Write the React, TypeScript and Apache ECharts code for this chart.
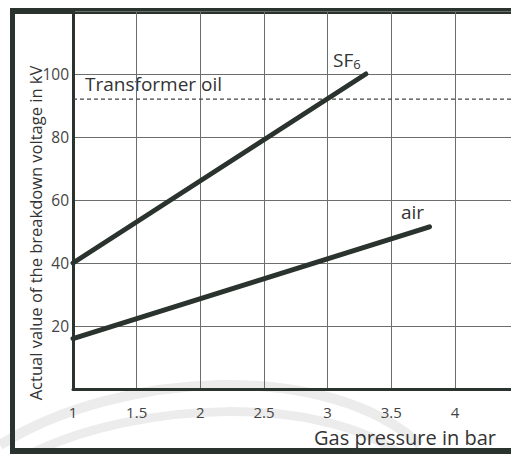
import React, { useEffect, useRef } from "react";
import * as echarts from "echarts";

const sf6Data: [number, number][] = [[1, 40], [3.3, 100]];
const airData: [number, number][] = [[1, 16], [3.8, 51.5]];
const oilLevel = 92;
const xMin = 1;
const xMax = 4.44;
const yMin = 0;
const yMax = 120;
const hiddenYLabels = [0, 120];

const DARK = "#2b332f";
const FONT = "'Open Sans', sans-serif";

export default function App() {
  const ref = useRef<HTMLDivElement>(null);
  useEffect(() => {
    if (!ref.current) return;
    const chart = echarts.init(ref.current, null, { renderer: "svg" });
    chart.setOption({
      animation: false,
      backgroundColor: "#ffffff",
      grid: { left: 73, right: 0, top: 11, bottom: 65 },
      xAxis: {
        type: "value",
        min: xMin,
        max: xMax,
        interval: 0.5,
        axisLine: { show: true, onZero: false, lineStyle: { color: DARK, width: 3 } },
        axisTick: { show: false },
        axisLabel: {
          color: "#444",
          fontSize: 15,
          fontFamily: FONT,
          margin: 15,
          showMaxLabel: false,
          formatter: (v: number) => String(v),
        },
        splitLine: { show: true, lineStyle: { color: "#6a6e6c", width: 1 } },
      },
      yAxis: {
        type: "value",
        min: yMin,
        max: yMax,
        interval: 20,
        axisLine: { show: true, onZero: false, lineStyle: { color: DARK, width: 3 } },
        axisTick: { show: false },
        axisLabel: {
          color: "#444",
          fontSize: 15.5,
          fontFamily: FONT,
          margin: 4,
          formatter: (v: number) => (hiddenYLabels.includes(v) ? "" : String(v)),
        },
        splitLine: { show: true, lineStyle: { color: "#6a6e6c", width: 1 } },
      },
      series: [
        {
          type: "line",
          data: [[xMin, oilLevel], [xMax, oilLevel]],
          symbol: "none",
          lineStyle: { color: "#444", width: 1.3, type: [4, 3] },
          z: 3,
        },
        {
          type: "line",
          data: sf6Data,
          symbol: "none",
          lineStyle: { color: DARK, width: 5, cap: "round" },
          z: 4,
        },
        {
          type: "line",
          data: airData,
          symbol: "none",
          lineStyle: { color: DARK, width: 5, cap: "round" },
          z: 4,
        },
      ],
      graphic: [
        {
          type: "bezierCurve",
          silent: true,
          z: -1,
          shape: { x1: 0, y1: 445, x2: 420, y2: 445, cpx1: 120, cpy1: 370, cpx2: 330, cpy2: 360 },
          style: { stroke: "#ececec", lineWidth: 10, fill: null },
        },
        {
          type: "bezierCurve",
          silent: true,
          z: -1,
          shape: { x1: 30, y1: 454, x2: 400, y2: 454, cpx1: 140, cpy1: 400, cpx2: 320, cpy2: 395 },
          style: { stroke: "#ececec", lineWidth: 9, fill: null },
        },
        {
          type: "line",
          shape: { x1: 12.5, y1: 8, x2: 12.5, y2: 454 },
          style: { stroke: DARK, lineWidth: 5 },
        },
        {
          type: "line",
          shape: { x1: 10, y1: 11, x2: 511, y2: 11 },
          style: { stroke: DARK, lineWidth: 6 },
        },
        {
          type: "line",
          shape: { x1: 10, y1: 451, x2: 511, y2: 451 },
          style: { stroke: DARK, lineWidth: 6 },
        },
        {
          type: "text",
          x: 35,
          y: 233,
          rotation: Math.PI / 2,
          style: {
            text: "Actual value of the breakdown voltage in kV",
            fill: "#333",
            font: `16.5px ${FONT}`,
            align: "center",
            verticalAlign: "middle",
          },
        },
        {
          type: "text",
          x: 405,
          y: 437,
          style: {
            text: "Gas pressure in bar",
            fill: "#333",
            font: `20px ${FONT}`,
            align: "center",
            verticalAlign: "middle",
          },
        },
        {
          type: "text",
          x: 85,
          y: 84,
          style: {
            text: "Transformer oil",
            fill: "#333",
            font: `19px ${FONT}`,
            align: "left",
            verticalAlign: "middle",
          },
        },
        {
          type: "text",
          x: 333,
          y: 60,
          style: {
            text: "{a|SF}{b|6}",
            align: "left",
            verticalAlign: "middle",
            rich: {
              a: { fill: "#333", fontSize: 19, fontFamily: FONT },
              b: { fill: "#333", fontSize: 13, fontFamily: FONT, padding: [8, 0, 0, 0] },
            },
          },
        },
        {
          type: "text",
          x: 401,
          y: 212,
          style: {
            text: "air",
            fill: "#333",
            font: `19px ${FONT}`,
            align: "left",
            verticalAlign: "middle",
          },
        },
      ],
    });
    return () => chart.dispose();
  }, []);
  return <div ref={ref} style={{ width: 511, height: 454, position: "absolute", left: 0, top: 0 }} />;
}
